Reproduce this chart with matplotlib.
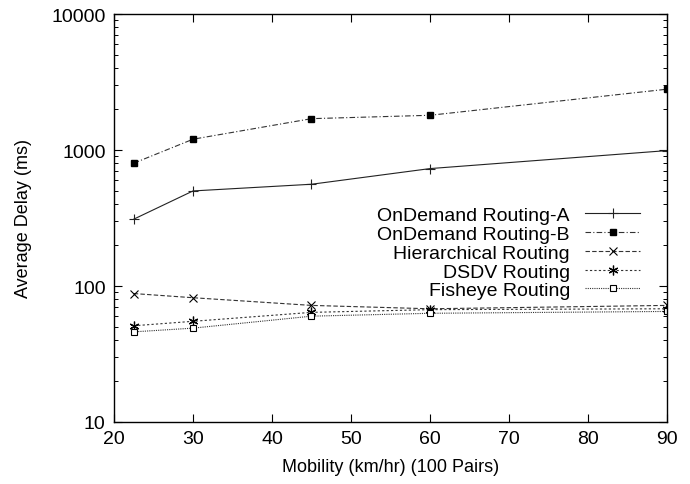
import matplotlib
matplotlib.use("Agg")
import matplotlib.pyplot as plt
from matplotlib.ticker import FixedLocator, FixedFormatter, LogLocator, NullFormatter

# mobility (km/hr) and average delay (ms)
mobility = [22.5, 30, 45, 60, 90]
ondemand_a = [310, 500, 560, 730, 990]
ondemand_b = [800, 1200, 1700, 1800, 2800]
hierarchical = [88, 82, 72, 68, 72]
dsdv = [51, 55, 64, 67, 68]
fisheye = [46, 49, 60, 63, 65]

labels = ["OnDemand Routing-A", "OnDemand Routing-B", "Hierarchical Routing",
          "DSDV Routing", "Fisheye Routing"]
y_ticks = [10, 100, 1000, 10000]
x_ticks = [20, 30, 40, 50, 60, 70, 80, 90]

plt.rcParams['font.family'] = ['Liberation Sans', 'DejaVu Sans']

fig = plt.figure(figsize=(6.9, 4.85), dpi=100)
ax = fig.add_axes([114 / 690, 1 - 423 / 485, (667 - 114) / 690, (423 - 15) / 485])

lw = 0.8
ax.plot(mobility, ondemand_a, color='#222222', lw=lw, ls='-', marker='+', ms=7,
        mew=0.8, label=labels[0])
ax.plot(mobility, ondemand_b, color='#333333', lw=lw, ls=(0, (5, 2, 1, 2)), marker='s',
        ms=5, mfc='black', mec='black', label=labels[1])
ax.plot(mobility, hierarchical, color='#333333', lw=lw, ls=(0, (4, 2)), marker='x',
        ms=6, mew=0.8, mec='black', label=labels[2])
ax.plot(mobility, dsdv, color='#333333', lw=lw, ls=(0, (2, 2)), marker=(6, 2, 0),
        ms=7, mew=0.9, mec='black', label=labels[3])
ax.plot(mobility, fisheye, color='#333333', lw=lw, ls=(0, (1, 1)), marker='s',
        ms=5, mfc='white', mec='black', mew=0.8, label=labels[4])

ax.set_yscale('log')
ax.set_xlim(20, 90)
ax.set_ylim(10, 10000)
ax.xaxis.set_major_locator(FixedLocator(x_ticks))
ax.yaxis.set_major_locator(FixedLocator(y_ticks))
ax.yaxis.set_major_formatter(FixedFormatter([str(v) for v in y_ticks]))
ax.yaxis.set_minor_locator(LogLocator(base=10, subs=range(2, 10)))
ax.yaxis.set_minor_formatter(NullFormatter())

ax.tick_params(axis='both', which='major', direction='in', top=True, right=True,
               length=6, width=0.8, labelsize=14, pad=6)
ax.tick_params(axis='both', which='minor', direction='in', top=True, right=True,
               length=3, width=0.7)
for sp in ax.spines.values():
    sp.set_linewidth(1.0)

ax.set_xlabel('Mobility (km/hr) (100 Pairs)', fontsize=13, labelpad=8)
ax.set_ylabel('Average Delay (ms)', fontsize=13, labelpad=14)

ax.legend(loc='upper right', bbox_to_anchor=(0.951, 0.528), frameon=False,
          markerfirst=False, fontsize=14, handlelength=2.8, handletextpad=0.8,
          labelspacing=0.06, borderpad=0, borderaxespad=0)

fig.savefig('out.png', dpi=100)
